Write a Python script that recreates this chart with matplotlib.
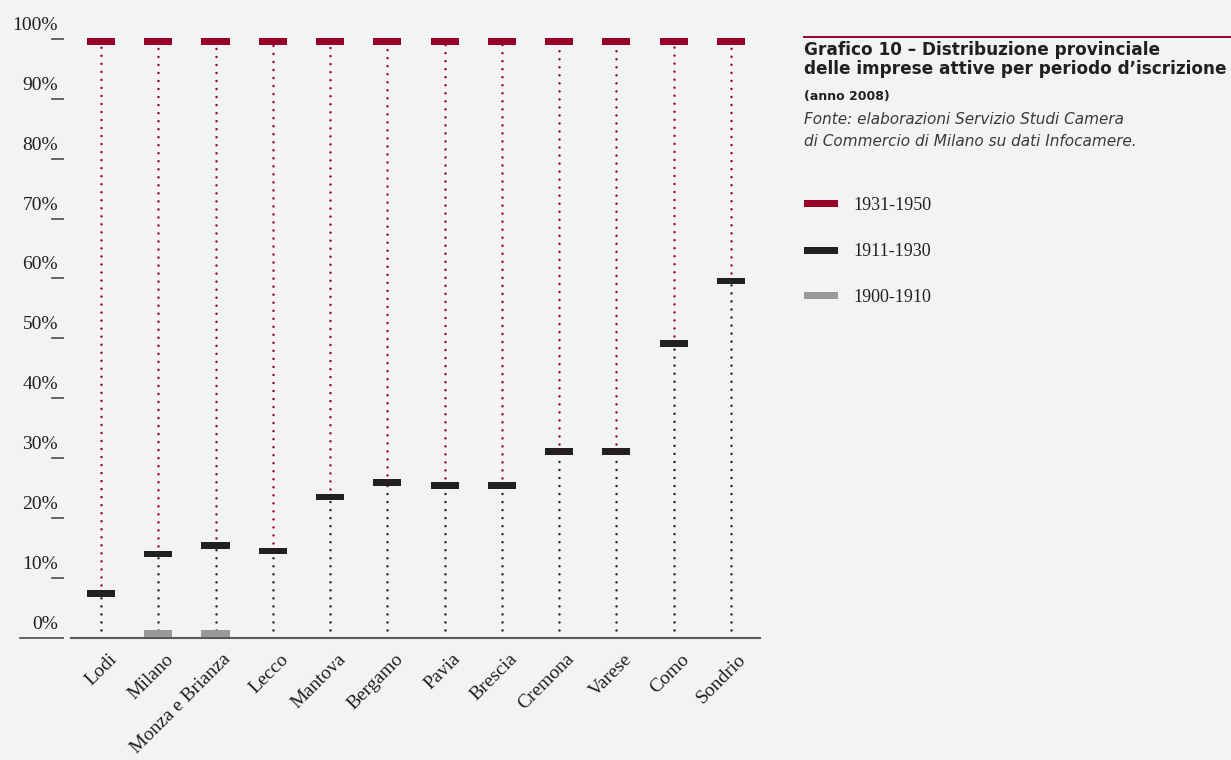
import matplotlib
matplotlib.use("Agg")
import matplotlib.pyplot as plt
from matplotlib import transforms
from matplotlib.patches import Rectangle
from matplotlib.lines import Line2D
import numpy as np

# ---- data -------------------------------------------------------------
provinces = ["Lodi", "Milano", "Monza e Brianza", "Lecco", "Mantova", "Bergamo",
             "Pavia", "Brescia", "Cremona", "Varese", "Como", "Sondrio"]
# cumulative share (%) of active firms registered up to each period end
share_1900_1910 = [np.nan, 0.65, 0.65, np.nan, np.nan, np.nan,
                   np.nan, np.nan, np.nan, np.nan, np.nan, np.nan]
share_1911_1930 = [7.4, 14.0, 15.4, 14.5, 23.5, 25.9,
                   25.4, 25.4, 31.1, 31.1, 49.1, 59.6]
share_1931_1950 = [99.6] * 12
y_ticks = [0, 10, 20, 30, 40, 50, 60, 70, 80, 90, 100]
y_tick_labels = [f"{v}%" for v in y_ticks]
legend_labels = ["1931-1950", "1911-1930", "1900-1910"]

# ---- style --------------------------------------------------------------
BG = "#f2f3f5"
RED = "#960028"
BLACK = "#231f20"
GREY = "#98999b"
AXIS = "#58595b"
TEXT = "#231f20"
SERIF = ["Liberation Serif", "DejaVu Serif"]
SANS = ["DejaVu Sans"]

W, H = 1231, 760
fig = plt.figure(figsize=(W / 100, H / 100), dpi=100, facecolor=BG)

# axes placed in pixel terms
ax_left, ax_right, ax_bottom, ax_top = 71, 760, 637.7, 39
ax = fig.add_axes([ax_left / W, (H - ax_bottom) / H,
                   (ax_right - ax_left) / W, (ax_bottom - ax_top) / H])
ax.set_facecolor(BG)
ax.set_xlim(-0.524, 11.51)
ax.set_ylim(0, 100)
for side in ["left", "right", "top"]:
    ax.spines[side].set_visible(False)
ax.spines["bottom"].set_color(AXIS)
ax.spines["bottom"].set_linewidth(1.5)
ax.set_xticks([])
ax.set_yticks([])

x = np.arange(len(provinces))
px_per_unit = (ax_bottom - ax_top) / 100.0
bar_h = 6.7 / px_per_unit
bar_w = 0.49

# dotted stems: black up to the 1911-1930 mark, red from there to 1931-1950
dot_style = dict(linestyle=(0, (0.01, 3.2)), linewidth=1.8,
                 dash_capstyle="round", zorder=2)
for xi, b, r in zip(x, share_1911_1930, share_1931_1950):
    ax.plot([xi, xi], [0, b], color=BLACK, **dot_style)
    ax.plot([xi, xi], [b, r], color=RED, **dot_style)

# period marks
def marks(values, color):
    v = np.asarray(values, dtype=float)
    ok = ~np.isnan(v)
    ax.bar(x[ok], bar_h, bottom=v[ok] - bar_h / 2, width=bar_w,
           color=color, zorder=4, clip_on=False)

marks(share_1931_1950, RED)
marks(share_1911_1930, BLACK)
marks(share_1900_1910, GREY)

# y ticks drawn as short dashes detached from the plot area
ytrans = ax.get_yaxis_transform()
span = ax_right - ax_left
for v, lab in zip(y_ticks, y_tick_labels):
    x0 = (20 - ax_left) / span if v == 0 else (52 - ax_left) / span
    x1 = (63 - ax_left) / span
    ax.add_line(Line2D([x0, x1], [v, v], transform=ytrans, color=AXIS,
                       linewidth=1.3, clip_on=False))
    t = transforms.offset_copy(ytrans, fig=fig, x=0, y=9, units="dots")
    ax.text((58 - ax_left) / span, v, lab, transform=t,
            ha="right", va="baseline", fontsize=14, family=SERIF,
            color=TEXT, clip_on=False)

# rotated province names
xtrans = ax.get_xaxis_transform()
lab_t = transforms.offset_copy(xtrans, fig=fig, x=13, y=-19, units="dots")
for xi, name in zip(x, provinces):
    ax.text(xi, 0, name, transform=lab_t, rotation=45, rotation_mode="anchor",
            ha="right", va="center", fontsize=14, family=SERIF, color=TEXT)

# ---- title block ------------------------------------------------------
def fx(px):
    return px / W

def fy(py):
    return 1 - py / H

fig.add_artist(Line2D([fx(804), fx(1231)], [fy(37), fy(37)], color=RED,
                      linewidth=1.4, transform=fig.transFigure))
fig.text(fx(804), fy(55), "Grafico 10 – Distribuzione provinciale",
         fontsize=12.2, fontweight="bold", family=SANS, color=TEXT, va="baseline")
fig.text(fx(804), fy(74), "delle imprese attive per periodo d’iscrizione",
         fontsize=12.2, fontweight="bold", family=SANS, color=TEXT, va="baseline")
fig.text(fx(804), fy(100), "(anno 2008)",
         fontsize=9, fontweight="bold", family=SANS, color=TEXT, va="baseline")
fig.text(fx(804), fy(124), "Fonte: elaborazioni Servizio Studi Camera",
         fontsize=11, style="italic", family=SANS, color="#3a3a3c", va="baseline")
fig.text(fx(804), fy(146), "di Commercio di Milano su dati Infocamere.",
         fontsize=11, style="italic", family=SANS, color="#3a3a3c", va="baseline")

# ---- legend -----------------------------------------------------------
for lab, col, yc in zip(legend_labels, [RED, BLACK, GREY], [203.3, 250, 295.7]):
    fig.add_artist(Rectangle((fx(804), fy(yc + 3.5)), fx(838) - fx(804), 7 / H,
                             transform=fig.transFigure, color=col, linewidth=0))
    fig.text(fx(853), fy(yc), lab, fontsize=13, family=SERIF, color=TEXT,
             va="center_baseline")

fig.savefig("out.png", dpi=100, facecolor=BG)
